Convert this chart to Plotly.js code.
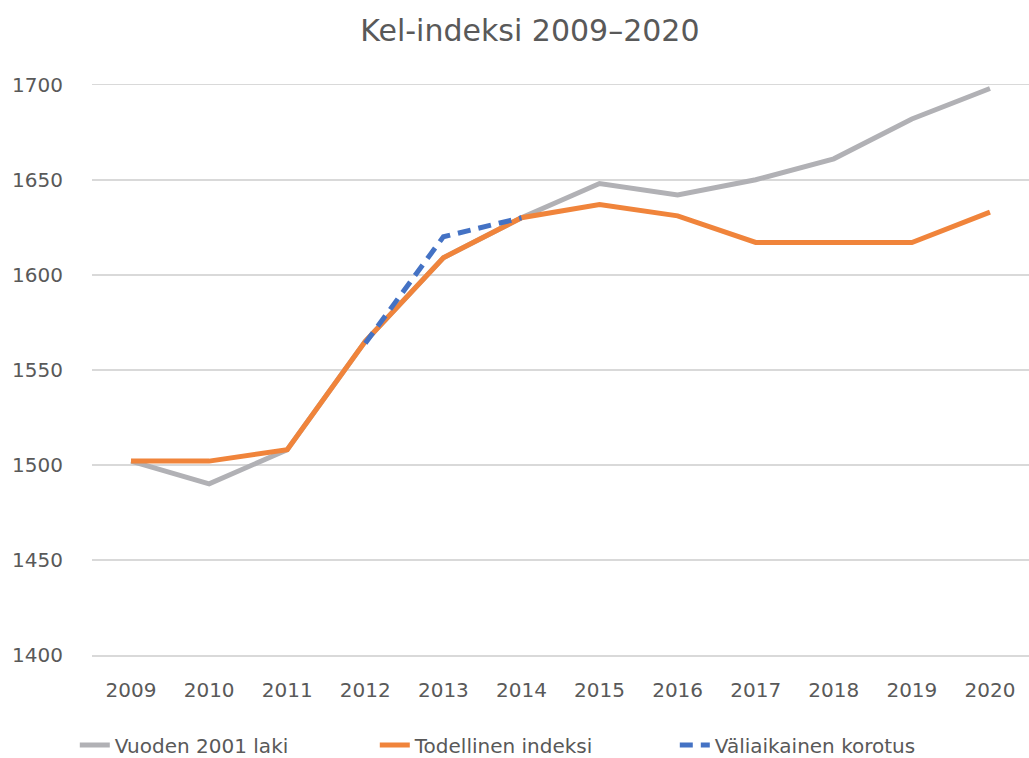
<!DOCTYPE html>
<html><head><meta charset="utf-8">
<script src="https://cdn.plot.ly/plotly-3.0.1.min.js"></script>
<style>html,body{margin:0;padding:0;background:#fff}#chart{width:1029px;height:758px}</style>
</head><body><div id="chart"></div>
<script>
const years = ['2009','2010','2011','2012','2013','2014','2015','2016','2017','2018','2019','2020'];
const laki2001 = [1502,1490,1508,1565,1609,1630,1648,1642,1650,1661,1682,1698];
const todellinen = [1502,1502,1508,1565,1609,1630,1637,1631,1617,1617,1617,1633];
const valiaikYears = ['2012','2013','2014'];
const valiaikainen = [1564,1620,1630];
const seriesNames = ['Vuoden 2001 laki','Todellinen indeksi','Väliaikainen korotus'];

const font = 'DejaVu Sans, sans-serif';
const txt = '#595959';
const data = [
  {x: years, y: laki2001, name: seriesNames[0], type:'scatter', mode:'lines',
   line:{color:'#B1B1B5', width:5}},
  {x: years, y: todellinen, name: seriesNames[1], type:'scatter', mode:'lines',
   line:{color:'#F0843B', width:5}},
  {x: valiaikYears, y: valiaikainen, name: seriesNames[2], type:'scatter', mode:'lines',
   line:{color:'#4472C4', width:5, dash:'13px,8px'}}
];
const layout = {
  width:1029, height:758,
  margin:{l:92, r:0, t:79, b:103},
  paper_bgcolor:'#fff', plot_bgcolor:'#fff',
  title:{text:'Kel-indeksi 2009–2020', x:0.515, xanchor:'center', y:0.96, yanchor:'middle',
    font:{family:font, size:30, color:txt}},
  xaxis:{type:'category', range:[-0.5,11.5], showgrid:false, showline:true, linecolor:'#d9d9d9', linewidth:1.5,
    ticks:'', tickfont:{family:font, size:20, color:txt}, ticklabelstandoff:16},
  yaxis:{range:[1400,1703], dtick:50, tick0:1400, showgrid:true, gridcolor:'#d9d9d9', gridwidth:1.5,
    zeroline:false, tickfont:{family:font, size:20, color:txt}, ticks:'', ticklabelstandoff:28},
  showlegend:true,
  legend:{orientation:'h', x:0.51, xanchor:'center', xref:'container', y:0.017, yanchor:'middle', yref:'container',
    font:{family:font, size:20, color:txt}, entrywidth:255, entrywidthmode:'pixels', traceorder:'normal'}
};
Plotly.newPlot('chart', data, layout, {displayModeBar:false, staticPlot:true});
</script></body></html>
